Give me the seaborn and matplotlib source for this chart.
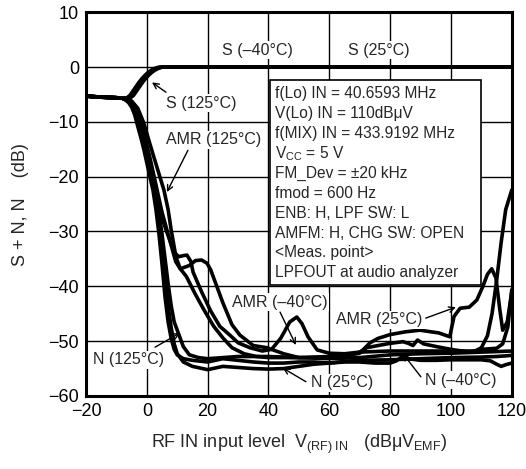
import numpy as np
import pandas as pd
import seaborn as sns
import matplotlib.pyplot as plt
from matplotlib.patches import Rectangle

# S curves (3 temperatures, nearly on top of each other)
s_x = [-20, -15, -10, -8, -6.2, -5, -4, -3, -2, -1, 0, 1, 2, 3, 4, 5, 6, 10, 20, 40, 60, 80, 100, 120]
s_y = [-5.3, -5.5, -5.6, -5.7, -5.7, -5.2, -4.4, -3.6, -2.8, -2.1, -1.5, -1.0, -0.6, -0.3, -0.1, 0, 0, 0, 0, 0, 0, 0, 0, 0]
s_shift = {'S (-40)': -0.6, 'S (25)': 0.0, 'S (125)': 0.6}

# noise curves
n_m40_x = [-20, -15, -10, -8, -7, -6, -5, -4, -3, -2, -1, 0, 1, 2, 3, 4, 5, 6, 7, 8, 9, 10, 12, 15, 20, 25, 30, 35,
           40, 45, 50, 55, 60, 65, 70, 75, 80, 82, 84, 86, 90, 95, 100, 105, 110, 113, 115, 116.5, 118, 120]
n_m40_y = [-5.3, -5.5, -5.6, -5.7, -6.0, -6.5, -7.3, -8.7, -10.8, -12.8, -15, -17.5, -20, -22.4, -26, -30.5, -36,
           -42, -46.5, -49.5, -51.5, -52.5, -53.2, -53.5, -53.8, -53.2, -53.5, -53.8, -54, -54, -53.8, -53.8, -54,
           -53.8, -53.8, -54, -54, -53.6, -52.8, -53.2, -53.5, -53.5, -53.4, -53.4, -53.4, -53.6, -54.2, -54.6,
           -54.3, -54]

n_25_x = [-20, -15, -10, -8, -7, -6, -5, -4, -3, -2, -1, 0, 1, 2, 3, 4, 5, 6, 7, 8, 9, 10, 12, 15, 20, 25, 30, 35,
          40, 45, 50, 55, 60, 65, 70, 80, 90, 100, 110, 115, 120]
n_25_y = [-5.3, -5.5, -5.6, -5.7, -6.0, -6.4, -7.0, -8.2, -10, -12, -14.2, -16.5, -19, -21.5, -24.5, -28.5, -33,
          -38.5, -43.5, -47.5, -50.5, -52.3, -53.8, -54.6, -55.2, -54.6, -54.8, -55, -55.1, -55, -54.6, -54.2, -54,
          -53.7, -53.5, -53.4, -53.2, -53, -52.9, -52.8, -52.6]

n_125_x = [-20, -15, -10, -8, -7, -6, -5, -4, -3, -2, -1, 0, 1, 2, 3, 4, 5, 6, 7, 8, 9, 10.6, 12, 14, 17, 20, 25,
           30, 35, 40, 50, 60, 70, 80, 90, 100, 110, 120]
n_125_y = [-5.3, -5.5, -5.6, -5.7, -5.9, -6.3, -6.9, -7.9, -9.4, -11.2, -13.2, -15.4, -17.8, -20.3, -23, -26.5,
           -30.5, -35, -39.5, -43.5, -46.5, -48.9, -51, -52.5, -53, -53.2, -53, -52.8, -52.8, -52.8, -53, -53.2,
           -53, -52.5, -52.3, -52.2, -52, -51.8]

# AMR curves
amr_m40_x = [-20, -15, -10, -8, -7, -5, -3, -1, 1, 3, 5, 6.5, 7.5, 9, 10.5, 12, 13.2, 14.5, 15.2, 18, 21, 24,
             27.3, 30, 33.9, 38, 41, 44, 47, 49.3, 51, 53, 56, 60, 65, 70, 80, 90, 100, 108, 110, 112, 113.5,
             115, 116.5, 118, 120]
amr_m40_y = [-5.3, -5.5, -5.6, -5.7, -5.9, -6.6, -8.8, -12.5, -17, -22, -27.5, -30, -31.5, -33.8, -34.6, -34.4,
             -34.3, -35.5, -37.4, -41, -44.5, -47.3, -48.9, -50.3, -51.2, -51.8, -51.5, -49.5, -46.5, -45.6,
             -46.8, -49.2, -51.6, -52.2, -52.3, -52, -51.8, -51.8, -51.8, -51.8, -51.2, -49, -45, -39, -32, -26,
             -22.4]

amr_25_x = [-20, -15, -10, -8, -7, -5, -3, -1, 1, 3, 5, 7, 8, 9.5, 11, 12.5, 14, 16, 18, 19.8, 21, 23, 25, 28,
            30.6, 35, 39.5, 45, 50, 60, 65, 68, 70, 73.4, 76, 80, 85, 89.8, 96, 99.6, 101, 103, 106, 108.5,
            110.5, 112, 113.4, 114.8, 116, 117, 118.5, 120]
amr_25_y = [-5.3, -5.5, -5.6, -5.7, -5.9, -6.3, -8.5, -12, -16.5, -21.5, -26.5, -30.5, -32.5, -35.5, -36.8, -36.5,
            -36.2, -35.3, -35.2, -35.8, -37, -40, -43, -47, -48.9, -50.8, -51.2, -52.3, -53, -53, -52.8, -52.4,
            -52.2, -50.3, -49.5, -48.8, -48.3, -48, -48.5, -49.2, -45.5, -44, -43.8, -42.5, -40, -37.8, -36.8,
            -38.5, -44, -48, -46.5, -41]

amr_125_x = [-20, -15, -10, -8, -6.9, -5, -3, -1, 1, 2.3, 4, 5.6, 7, 8, 9.6, 11, 13, 16, 19, 22, 25, 28, 32, 36,
             40, 50, 60, 66, 70, 72.3, 76, 80, 84.2, 86, 87.5, 89, 91, 95.3, 100, 106, 110, 115, 117, 118.7, 120]
amr_125_y = [-5.3, -5.5, -5.6, -5.7, -5.8, -6.2, -7.5, -10.2, -14, -16.4, -19.5, -22.4, -26, -29.7, -34.7, -36.8,
             -38.2, -41.5, -44.5, -47.3, -49.4, -51.2, -52.3, -52.8, -53, -53, -52.8, -52.6, -52, -51.2, -50.8,
             -50.4, -50.1, -50.4, -50.8, -49.8, -50.5, -51, -51.5, -52, -51.5, -51.3, -50.5, -47.4, -40.6]

noise_curves = {
    'N (-40)': (n_m40_x, n_m40_y), 'N (25)': (n_25_x, n_25_y), 'N (125)': (n_125_x, n_125_y),
    'AMR (-40)': (amr_m40_x, amr_m40_y), 'AMR (25)': (amr_25_x, amr_25_y), 'AMR (125)': (amr_125_x, amr_125_y),
}

box_lines = [
    'f(Lo) IN = 40.6593 MHz',
    'V(Lo) IN = 110dBμV',
    'f(MIX) IN = 433.9192 MHz',
    r'V$_\mathregular{CC}$ = 5 V',
    'FM_Dev = ±20 kHz',
    'fmod = 600 Hz',
    'ENB: H, LPF SW: L',
    'AMFM: H, CHG SW: OPEN',
    '<Meas. point>',
    'LPFOUT at audio analyzer',
]

frames = []
for name, dx in s_shift.items():
    frames.append(pd.DataFrame({'x': np.array(s_x) + dx, 'y': s_y, 'curve': name}))
for name, (xs, ys) in noise_curves.items():
    frames.append(pd.DataFrame({'x': xs, 'y': ys, 'curve': name}))
df = pd.concat(frames, ignore_index=True)

sns.set_style('white')
plt.rcParams['font.family'] = ['Liberation Sans', 'DejaVu Sans']
plt.rcParams['mathtext.fontset'] = 'custom'
plt.rcParams['mathtext.rm'] = 'Liberation Sans'
plt.rcParams['mathtext.it'] = 'Liberation Sans:italic'

fig, ax = plt.subplots(figsize=(5.26, 4.69), dpi=100)
fig.subplots_adjust(left=0.1635, right=0.973, bottom=0.1557, top=0.974)

sns.lineplot(data=df, x='x', y='y', units='curve', estimator=None, sort=False,
             color='black', lw=2.6, ax=ax, zorder=3)

ax.set_xlim(-20, 120)
ax.set_ylim(-60, 10)
ax.set_xticks(range(-20, 121, 20))
ax.set_yticks(range(-60, 11, 10))
ax.grid(True, color='black', lw=1.0)
ax.set_axisbelow(True)
for sp in ax.spines.values():
    sp.set_visible(True)
    sp.set_color('black')
    sp.set_linewidth(2.2)
ax.tick_params(length=0, labelsize=13, pad=5, colors='black')

ax.set_xlabel(r'RF IN input level  V$_\mathregular{(RF)\ IN}$   (dBμV$_\mathregular{EMF}$)',
              fontsize=13, labelpad=9)
ax.set_ylabel('S + N, N    (dB)', fontsize=13, labelpad=14)

# condition box
ax.add_patch(Rectangle((40.5, -39.7), 69.5, 37.3, facecolor='white', edgecolor='black', lw=1.2, zorder=2.5))
for i, line in enumerate(box_lines):
    ax.text(42, -4.8 - i * 3.64, line, fontsize=11.2, va='center', ha='left', zorder=4)

lbl = dict(fontsize=11.5, va='center', ha='left', zorder=5,
           bbox=dict(facecolor='white', edgecolor='none', pad=1.0))
arr = dict(arrowstyle='->', color='black', lw=1.0, shrinkA=0, shrinkB=0, mutation_scale=10)

ax.text(24.7, 3.1, 'S (–40°C)', **lbl)
ax.text(66.1, 3.1, 'S (25°C)', **lbl)

labels = [
    ('S (125°C)', (6.3, -6.6), (6.3, -4.6), (1.7, -2.8)),
    ('AMR (125°C)', (6.3, -13.3), (13.5, -15.2), (6.6, -22.8)),
    ('AMR (–40°C)', (28, -42.9), (43.8, -44.7), (49, -50.7)),
    ('AMR (25°C)', (62.2, -46.1), (91.7, -45.8), (101.6, -43.8)),
    ('N (125°C)', (-17.7, -53.4), (2.7, -51.1), (10.9, -48.5)),
    ('N (25°C)', (54, -57.6), (52.3, -57.4), (44.7, -54.9)),
    ('N (–40°C)', (91.4, -57.1), (90.1, -56.5), (84.2, -52.3)),
]
for text, pos, tail, tip in labels:
    ax.text(pos[0], pos[1], text, **lbl)
    ax.annotate('', xy=tip, xytext=tail, arrowprops=arr, zorder=5)

fig.savefig('out.png', dpi=100)
